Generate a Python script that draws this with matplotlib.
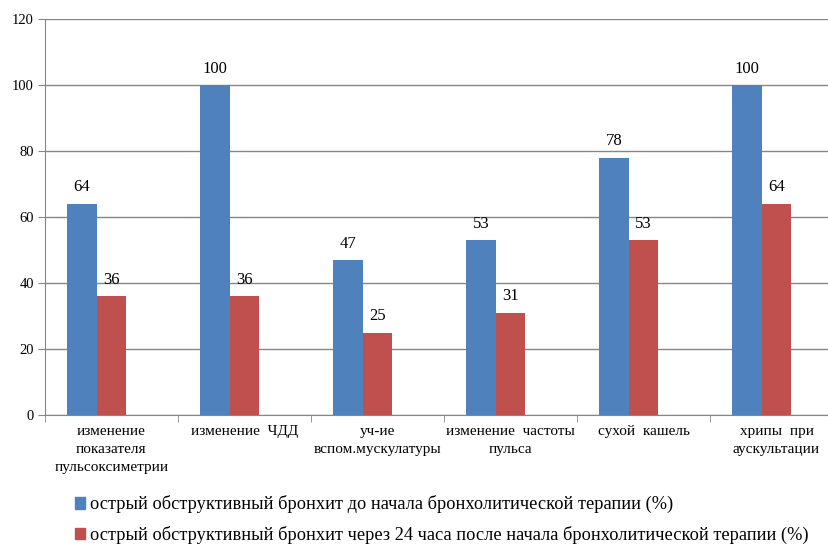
import matplotlib.pyplot as plt
import numpy as np
from matplotlib.patches import Patch

plt.rcParams['font.family'] = ['Liberation Serif', 'DejaVu Serif']

categories = ['изменение\nпоказателя\nпульсоксиметрии', 'изменение  ЧДД', 'уч-ие\nвспом.мускулатуры',
              'изменение  частоты\nпульса', 'сухой  кашель', 'хрипы  при\nаускультации']
before = [64, 100, 47, 53, 78, 100]
after = [36, 36, 25, 31, 53, 64]
labels = ['острый обструктивный бронхит до начала бронхолитической терапии (%)',
          'острый обструктивный бронхит через 24 часа после начала бронхолитической терапии (%)']

blue = '#4F81BD'
red = '#C0504D'
grey = '#868686'

fig = plt.figure(figsize=(8.29, 5.45), dpi=100)
ax = fig.add_axes([45 / 829, 130 / 545, 798 / 829, 396 / 545])

x = np.arange(len(categories))
w = 0.222
b1 = ax.bar(x - w, before, w, color=blue, zorder=3)
b2 = ax.bar(x, after, w, color=red, zorder=3)

for bars, vals in ((b1, before), (b2, after)):
    for bar, v in zip(bars, vals):
        ax.annotate(str(v), (bar.get_x() + bar.get_width() / 2, v), xytext=(0, 6),
                    textcoords='offset points', ha='center', va='bottom', fontsize=12)

ax.set_xlim(-0.5, len(categories) - 0.5)
ax.set_ylim(0, 120)
ax.set_yticks(range(0, 121, 20))
ax.yaxis.grid(True, color=grey, linewidth=1, zorder=0)
ax.tick_params(axis='y', labelsize=10.5, length=5, color=grey, pad=3)

ax.set_xticks(x)
ax.set_xticklabels(categories, fontsize=11, linespacing=1.5)
ax.set_xticks(np.arange(-0.5, len(categories), 1), minor=True)
ax.tick_params(axis='x', which='major', length=0, pad=7)
ax.tick_params(axis='x', which='minor', length=5, color=grey)

for side in ('top', 'right'):
    ax.spines[side].set_visible(False)
for side in ('left', 'bottom'):
    ax.spines[side].set_color(grey)

handles = [Patch(color=blue), Patch(color=red)]
fig.legend(handles, labels, loc='upper left', bbox_to_anchor=(68 / 829, 1 - 488 / 545),
           frameon=False, fontsize=13.2, handlelength=0.55, handleheight=0.6,
           handletextpad=0.25, labelspacing=0.68, borderaxespad=0)

fig.savefig('out.png', dpi=100)
